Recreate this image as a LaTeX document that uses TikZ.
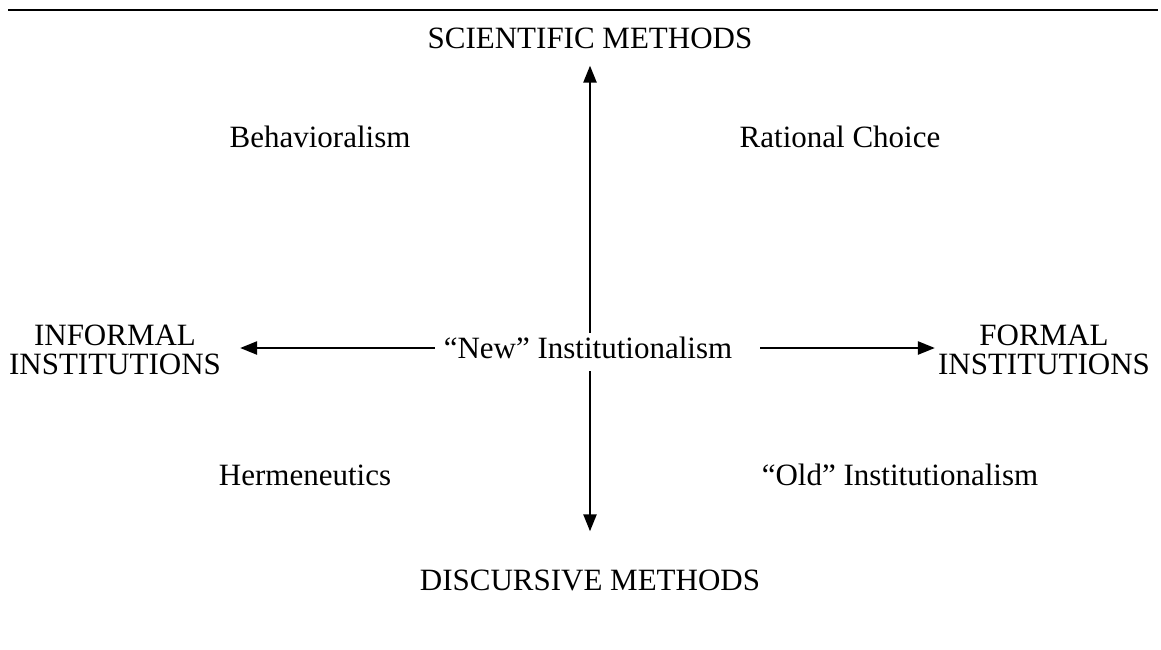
\documentclass[tikz,border=0pt]{standalone}
\usepackage{fontspec}
\setmainfont{Liberation Serif}
\usetikzlibrary{arrows.meta}

\tikzset{
    term/.style={inner sep=0pt, font=\fontsize{31}{29}\selectfont},
    pole/.style={term, align=center},
    axis/.style={line width=2.4pt, -{Triangle[length=17pt,width=13pt]}}
}

\begin{document}
\begin{tikzpicture}[x=1pt,y=-1pt]
    \useasboundingbox (0,0) rectangle (1161,649);
    \draw[line width=2pt] (8,10) -- (1158,10);

    % the four poles of the two axes
    \node[term] (sci) at (590,38) {SCIENTIFIC METHODS};
    \node[term] (disc) at (590,580) {DISCURSIVE METHODS};
    \node[pole] (informal) at (115,350) {INFORMAL\\INSTITUTIONS};
    \node[pole] (formal) at (1044,350) {FORMAL\\INSTITUTIONS};

    % centre and quadrants
    \node[term] (new) at (588,348) {``New'' Institutionalism};
    \node[term] (behav) at (320,137) {Behavioralism};
    \node[term] (rational) at (840,137) {Rational Choice};
    \node[term] (herm) at (305,475) {Hermeneutics};
    \node[term] (old) at (900,475) {``Old'' Institutionalism};

    \draw[axis, shorten <=9pt, shorten >=19pt] (new.west) -- (new.west -| informal.east);
    \draw[axis, shorten <=28pt, shorten >=3pt] (new.east) -- (new.east -| formal.west);
    \draw[axis, shorten <=4pt, shorten >=17pt] (new.north -| sci.south) -- (sci.south);
    \draw[axis, shorten <=12pt, shorten >=38pt] (new.south -| disc.north) -- (disc.north);
\end{tikzpicture}
\end{document}
